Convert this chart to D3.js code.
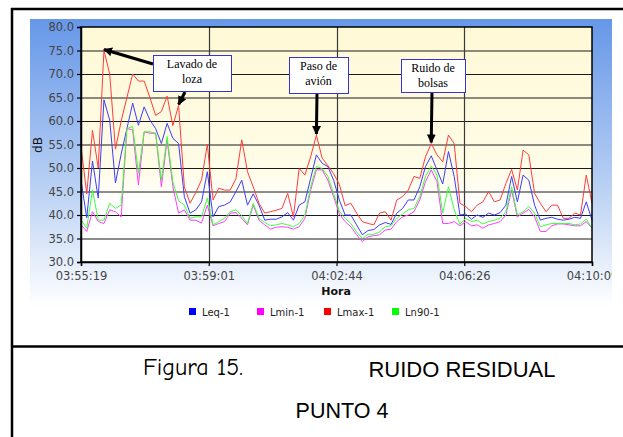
<!DOCTYPE html>
<html>
<head>
<meta charset="utf-8">
<script src="https://cdn.jsdelivr.net/npm/d3@7"></script>
<style>
body { margin: 0; background: #fff; }
svg { display: block; }
</style>
</head>
<body>
<svg id="fig" width="623" height="437"></svg>
<script>
// sampling: one reading every 10 s starting at 03:55:19
var startTime = "03:55:19";
var stepSeconds = 10;

var seriesNames = ["Leq-1", "Lmin-1", "Lmax-1", "Ln90-1"];

var leq = [47.4, 39.4, 51.5, 43.6, 64.5, 60.2, 46.8, 53, 58.4, 63.8, 59.1, 63, 60.2, 58.4, 55.2, 59.5, 56.3, 55.2, 43.9, 40.4, 41.1, 42.8, 49.2, 39.6,
	41.8, 42.1, 42.8, 45, 47.4, 42.1, 44.5, 42.1, 38.9, 39.1, 39.1, 39.6, 40.5, 38.9, 42.1, 42.8, 47.8, 52.8, 51, 50.3, 47.4, 43.2,
	40, 40, 37.9, 35.8, 36.7, 36.9, 37.9, 38.4, 38, 40.4, 41.4, 43.2, 43.2, 46, 50.3, 52.6, 49.6, 46.6, 53.5, 48.2, 40, 40.2,
	39.1, 40, 39.5, 40.4, 40, 40.5, 42.1, 48.2, 42.8, 48.5, 47.4, 42.1, 38.9, 39.3, 39.5, 39.1, 38.9, 39.1, 39.5, 39.3, 42.8, 38.9];

var lmin = [37.9, 36.5, 40.7, 38.6, 38.2, 41.1, 40.7, 39.6, 58.4, 58.1, 46.4, 57.7, 57.4, 57.4, 46, 56, 46, 40.4, 41.1, 38.9, 38.9, 38.3, 42.1, 37.7,
	38.2, 38.6, 40.4, 40.5, 39.3, 37.9, 42.1, 38.9, 37.9, 37, 37.4, 37.5, 37.4, 37, 37.5, 39.3, 45.3, 49.6, 49.6, 47.4, 43.9, 40.2,
	38.6, 37.5, 35.8, 34.3, 35.4, 35.6, 35.8, 36.8, 37, 38.6, 39.6, 40, 40.7, 43.2, 47.1, 49.6, 47.1, 38.2, 38.2, 38.6, 37.7, 38.6,
	37.7, 37.9, 37.2, 37.9, 38.2, 38.6, 40, 45.3, 39.6, 40.4, 41.2, 39.6, 36.5, 36.5, 37.7, 38.1, 38.1, 37.9, 37.7, 37.7, 38.6, 37.2];

var lmax = [54.5, 44.5, 58, 50, 75, 70, 54, 60, 65, 70, 68.5, 68.5, 65, 61.2, 62, 65.3, 59, 63.3, 46, 42.5, 44.8, 47.5, 55, 43.2,
	45.7, 45.3, 45.3, 47.8, 56, 49.2, 46, 42.5, 40.4, 40.7, 41, 41.4, 44.6, 39.6, 49.9, 48.5, 52.4, 57, 52.1, 50.5, 48.8, 46.5,
	42, 42.5, 40.4, 38.6, 38.2, 37.9, 40.4, 40.7, 38.9, 43.2, 43.9, 45.3, 48.2, 47.8, 52.4, 55.2, 52.8, 51.3, 57, 55.2, 42.5, 41.8,
	40.7, 42.1, 42.8, 45, 42.8, 43.2, 46.7, 49.7, 45.3, 53.8, 52.8, 44.6, 42.5, 40.7, 42.1, 42.1, 39.3, 39.3, 40.4, 40, 48.5, 42.5];

var ln90 = [39, 37.2, 45.3, 38.9, 38.9, 42.5, 41.4, 42.1, 58.4, 58.8, 48.9, 57.7, 57.7, 57.4, 47.4, 56.7, 47, 43, 42.1, 39.3, 39.6, 39.6, 43.6, 37.9,
	38.6, 39.3, 40.7, 41.1, 39.8, 38.2, 42.5, 39.3, 38.4, 37.7, 37.9, 38.2, 37.9, 37.5, 38.2, 40, 46, 50.3, 49.9, 48.2, 44.6, 40.8,
	39.3, 38.2, 36.4, 35, 35.9, 35.9, 36.4, 37.5, 37.7, 39.3, 40.2, 41.1, 41.4, 43.9, 48.2, 50.4, 48.5, 40.4, 46, 41.1, 38, 39.3,
	38.6, 38.9, 38.1, 38.6, 38.9, 39.3, 40.7, 46, 40, 40.7, 41.8, 40.4, 37.5, 37.9, 38.2, 38.2, 38.2, 38.2, 37.9, 38.1, 39.1, 37.2];

var yTicks = [30, 35, 40, 45, 50, 55, 60, 65, 70, 75, 80];

// callouts: text lines and the Lmax reading(s) they point at
var noteLines = [["Lavado de", "loza"], ["Paso de", "avión"], ["Ruido de", "bolsas"]];
var notePoints = [[4, 17], [41], [61]];

var captionLeft = "Figura 15.";
var captionRight = ["RUIDO RESIDUAL", "PUNTO 4"];

var svg = d3.select("#fig");
var defs = svg.append("defs");

var areaGrad = defs.append("linearGradient").attr("id", "areaGrad")
	.attr("x1", 0).attr("y1", 0).attr("x2", 0).attr("y2", 1);
areaGrad.append("stop").attr("offset", "0%").attr("stop-color", "#6697e8");
areaGrad.append("stop").attr("offset", "55%").attr("stop-color", "#b4cdf3");
areaGrad.append("stop").attr("offset", "100%").attr("stop-color", "#ffffff");

var plotGrad = defs.append("linearGradient").attr("id", "plotGrad")
	.attr("x1", 0).attr("y1", 0).attr("x2", 0).attr("y2", 1);
plotGrad.append("stop").attr("offset", "0%").attr("stop-color", "#fff9d6");
plotGrad.append("stop").attr("offset", "62%").attr("stop-color", "#fffce8");
plotGrad.append("stop").attr("offset", "74%").attr("stop-color", "#ffffff");
plotGrad.append("stop").attr("offset", "100%").attr("stop-color", "#ffffff");

defs.append("clipPath").attr("id", "areaClip")
	.append("rect").attr("x", 30).attr("y", 19).attr("width", 582).attr("height", 288);

defs.append("marker").attr("id", "head")
	.attr("viewBox", "0 0 10 10").attr("refX", 9).attr("refY", 5)
	.attr("markerWidth", 3).attr("markerHeight", 3).attr("orient", "auto")
	.append("path").attr("d", "M0,0 L10,5 L0,10 z").attr("fill", "#000");

// chart area
var area = svg.append("g").attr("clip-path", "url(#areaClip)");
area.append("rect").attr("x", 30).attr("y", 19).attr("width", 582).attr("height", 288)
	.attr("fill", "url(#areaGrad)");

var margin = {left: 81, top: 27, right: 592, bottom: 262};
var parseT = d3.timeParse("%H:%M:%S");
var t0 = parseT(startTime);
var times = lmax.map(function(d, i) { return d3.timeSecond.offset(t0, i * stepSeconds); });

var x = d3.scaleTime().domain([times[0], times[times.length - 1]]).range([margin.left, margin.right]);
var y = d3.scaleLinear().domain([30, 80]).range([margin.bottom, margin.top]);

area.append("rect").attr("x", margin.left).attr("y", margin.top)
	.attr("width", margin.right - margin.left).attr("height", margin.bottom - margin.top)
	.attr("fill", "url(#plotGrad)");

var span = times[times.length - 1] - times[0];
var xTicks = d3.range(5).map(function(k) { return new Date(+times[0] + k * span / 4); });

// grid
area.append("g").selectAll("line").data(yTicks.slice(1, -1)).enter().append("line")
	.attr("x1", margin.left).attr("x2", margin.right)
	.attr("y1", function(d) { return y(d) + 0.5; }).attr("y2", function(d) { return y(d) + 0.5; })
	.attr("stroke", "#1a1a1a").attr("stroke-width", 1.2);
area.append("g").selectAll("line").data(xTicks.slice(1, -1)).enter().append("line")
	.attr("y1", margin.top).attr("y2", margin.bottom)
	.attr("x1", function(d) { return Math.round(x(d)) + 0.5; }).attr("x2", function(d) { return Math.round(x(d)) + 0.5; })
	.attr("stroke", "#3a3a3a").attr("stroke-width", 1.2);

// series
var lineGen = function(vals) {
	return d3.line().x(function(d, i) { return x(times[i]); }).y(function(d) { return y(d); })(vals);
};
var seriesData = [leq, lmin, lmax, ln90];
var lineColors = ["#3c3cff", "#ff3cff", "#ff3c3c", "#3cff3c"];
seriesData.forEach(function(vals, k) {
	area.append("path").attr("d", lineGen(vals)).attr("fill", "none")
		.attr("stroke", lineColors[k]).attr("stroke-width", 1).attr("stroke-linejoin", "round");
});

// plot border
area.append("rect").attr("x", margin.left).attr("y", margin.top)
	.attr("width", margin.right - margin.left).attr("height", margin.bottom - margin.top)
	.attr("fill", "none").attr("stroke", "#000").attr("stroke-width", 1.5);

// axes
var yAxis = area.append("g").attr("transform", "translate(" + margin.left + ",0)")
	.call(d3.axisLeft(y).tickValues(yTicks).tickFormat(d3.format(".1f")).tickSize(4).tickPadding(3));
var xAxis = area.append("g").attr("transform", "translate(0," + margin.bottom + ")")
	.call(d3.axisBottom(x).tickValues(xTicks).tickFormat(d3.timeFormat("%H:%M:%S")).tickSize(4).tickPadding(6));
[yAxis, xAxis].forEach(function(ax) {
	ax.select(".domain").attr("stroke", "#000").attr("stroke-width", 1.5);
	ax.selectAll(".tick line").attr("stroke", "#000").attr("stroke-width", 1.2);
	ax.selectAll("text").attr("fill", "#444").style("font-family", "DejaVu Sans, sans-serif").style("font-size", "11.5px");
});

area.append("text").attr("transform", "translate(42,145) rotate(-90)")
	.attr("text-anchor", "middle").style("font-family", "DejaVu Sans, sans-serif")
	.style("font-size", "12px").attr("fill", "#111").text("dB");
area.append("text").attr("x", 336).attr("y", 295).attr("text-anchor", "middle")
	.style("font-family", "DejaVu Sans, sans-serif").style("font-size", "11px").style("font-weight", "bold")
	.attr("fill", "#111").text("Hora");

// legend
var legendColors = ["#0000ff", "#ff00ff", "#ff0000", "#00ff00"];
var legendX = [189, 257, 324, 392];
var legend = svg.append("g").selectAll("g").data(seriesNames).enter().append("g")
	.attr("transform", function(d, i) { return "translate(" + legendX[i] + ",312)"; });
legend.append("rect").attr("x", 0).attr("y", -4).attr("width", 7).attr("height", 7)
	.attr("fill", function(d, i) { return legendColors[i]; });
legend.append("text").attr("x", 13).attr("y", 4)
	.style("font-family", "DejaVu Sans, sans-serif").style("font-size", "10px").attr("fill", "#222")
	.text(function(d) { return d; });

// callouts
var boxes = [{x: 153, y: 55, w: 78, h: 36}, {x: 289, y: 57, w: 59, h: 36}, {x: 401, y: 59, w: 64, h: 33}];
var arrowStarts = [[[153, 64], [185, 92]], [[317, 93]], [[432, 92]]];
noteLines.forEach(function(lines, k) {
	var b = boxes[k];
	notePoints[k].forEach(function(pi, j) {
		var s = arrowStarts[k][j];
		svg.append("line").attr("x1", s[0]).attr("y1", s[1])
			.attr("x2", x(times[pi])).attr("y2", y(lmax[pi]) - 1)
			.attr("stroke", "#000").attr("stroke-width", 3).attr("marker-end", "url(#head)");
	});
	svg.append("rect").attr("x", b.x + 0.5).attr("y", b.y + 0.5).attr("width", b.w).attr("height", b.h)
		.attr("fill", "#fff").attr("stroke", "#3535d0").attr("stroke-width", 1);
	lines.forEach(function(t, j) {
		svg.append("text").attr("x", b.x + b.w / 2).attr("y", b.y + 13 + j * 15)
			.attr("text-anchor", "middle").style("font-family", "Liberation Serif, serif")
			.style("font-size", "12px").attr("fill", "#000").text(t);
	});
});

// frame and caption
svg.append("line").attr("x1", 11).attr("x2", 623).attr("y1", 9).attr("y2", 9).attr("stroke", "#000").attr("stroke-width", 2.5);
svg.append("line").attr("x1", 12).attr("x2", 12).attr("y1", 8).attr("y2", 437).attr("stroke", "#000").attr("stroke-width", 2.5);
svg.append("line").attr("x1", 11).attr("x2", 623).attr("y1", 346.5).attr("y2", 346.5).attr("stroke", "#000").attr("stroke-width", 2.5);

svg.append("text").attr("x", 143).attr("y", 375)
	.style("font-family", "'Comic Sans MS', 'Comic Neue', Lato, sans-serif").style("font-size", "24px")
	.attr("fill", "#000").text(captionLeft);
svg.append("text").attr("x", 462).attr("y", 377).attr("text-anchor", "middle")
	.style("font-family", "Liberation Sans, Arial, sans-serif").style("font-size", "22px")
	.attr("fill", "#000").text(captionRight[0]);
svg.append("text").attr("x", 342).attr("y", 418).attr("text-anchor", "middle")
	.style("font-family", "Liberation Sans, Arial, sans-serif").style("font-size", "21.5px")
	.attr("fill", "#000").text(captionRight[1]);
</script>
</body>
</html>
